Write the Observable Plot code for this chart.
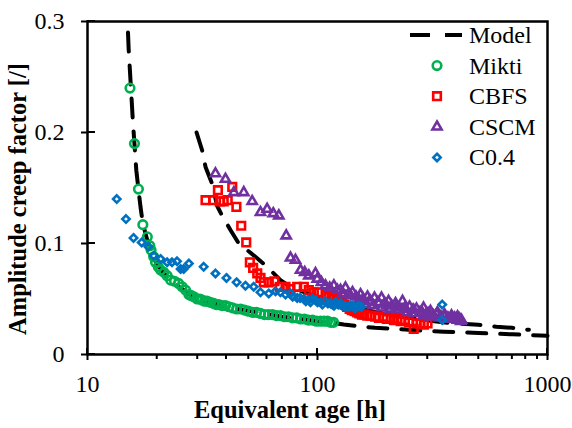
<!DOCTYPE html>
<html><head><meta charset="utf-8">
<script src="https://cdn.jsdelivr.net/npm/d3@7"></script>
<script src="https://cdn.jsdelivr.net/npm/@observablehq/plot@0.6"></script>
<style>html,body{margin:0;padding:0;background:#fff;} #chart{width:572px;height:428px;overflow:hidden} #chart svg text{font-family:"Liberation Serif","Times New Roman",Tinos,"DejaVu Serif",serif !important;}</style>
</head><body><div id="chart"></div>
<script>
// ---- data ----
const seriesNames = ["Model", "Mikti", "CBFS", "CSCM", "C0.4"];
const xTicks = [10, 100, 1000];
const xMinorTicks = [20, 30, 40, 50, 60, 70, 80, 90, 200, 300, 400, 500, 600, 700, 800, 900];
const yTicks = [0, 0.1, 0.2, 0.3];
const xTitle = "Equivalent age [h]";
const yTitle = "Amplitude creep factor [/]";

// model curve for Mikti [h, factor]
const modelA = [[15.0,0.29],[15.1,0.275],[15.25,0.26],[15.4,0.245],[15.55,0.23],[15.75,0.21],[16.0,0.19],[16.3,0.166],[16.65,0.149],[17.0,0.133],[17.4,0.118],[18.2,0.103],[19.0,0.092],[20.0,0.082],[21.5,0.073],[23.0,0.067],[25.0,0.061],[28.0,0.054],[32.0,0.048],[37.0,0.045],[45.0,0.041],[55.0,0.038],[70.0,0.034],[85.0,0.032],[100.0,0.030],[117.0,0.0285],[130,0.027],[150,0.0255],[178,0.024],[211,0.0232],[249,0.0222],[300,0.0213],[354,0.0206],[426,0.0200],[502,0.0193],[594,0.0188],[703,0.0182],[843,0.0175],[1000,0.0168]];
// model curve for CBFS / CSCM
const modelB = [[29.8,0.200],[31.5,0.184],[32.6,0.169],[34.8,0.154],[36.6,0.134],[38.5,0.125],[41.9,0.112],[45.5,0.100],[49.5,0.094],[53.7,0.088],[60.4,0.079],[69.0,0.067],[75.0,0.062],[90,0.055],[110,0.049],[140,0.043],[180,0.038],[250,0.033],[350,0.029],[420,0.0278],[500,0.0268],[600,0.025],[700,0.024],[830,0.0222]];

const mikti = [[15.3,0.240],[16.0,0.190],[16.65,0.149],[17.4,0.117],[18.2,0.106],[18.66,0.098],[18.9,0.094],[19.4,0.088],[19.75,0.083],[20.3,0.079],[20.8,0.076],[21.5,0.074],[22.2,0.071],[23.0,0.067],[23.9,0.066],[24.9,0.064],[25.8,0.061],[26.7,0.058],[27.6,0.054],[28.3,0.053],[29.0,0.052],[30.0,0.050],[30.8,0.050],[31.5,0.049],[32.3,0.048],[33.1,0.048],[34.2,0.047],[35.4,0.046],[36.3,0.045],[37.2,0.045],[38.5,0.044],[39.8,0.044],[41.2,0.043],[42.7,0.042],[44.5,0.041],[46.3,0.041],[48.2,0.040],[50.1,0.039],[52.2,0.038],[54.3,0.038],[56.5,0.037],[58.8,0.036],[61.2,0.036],[63.7,0.036],[66.3,0.035],[69.0,0.035],[71.9,0.034],[74.8,0.034],[77.9,0.033],[81.1,0.033],[84.4,0.032],[87.8,0.032],[91.4,0.031],[95.1,0.031],[99.0,0.030],[103.0,0.030],[106.7,0.030],[110.5,0.030],[114.0,0.029],[117.4,0.029]];

const cbfs = [[32.6,0.139],[35.2,0.139],[36.9,0.148],[37.6,0.138],[39.1,0.138],[40.7,0.139],[42.6,0.151],[44.4,0.133],[46.6,0.116],[49.0,0.101],[50.8,0.083],[52.5,0.078],[54.7,0.073],[56.5,0.069],[58.4,0.065],[61.4,0.065],[65.0,0.066],[68.5,0.061],[72.6,0.061],[76.3,0.059],[81.6,0.061],[87.2,0.061],[91.7,0.058],[96.4,0.056],[101.3,0.056],[108.4,0.054],[115,0.053],[122,0.051],[128,0.047],[134.6,0.043],[141,0.040],[148.8,0.038],[156,0.036],[164.5,0.035],[178,0.034],[193.6,0.034],[208,0.033],[222,0.032],[240,0.031],[262,0.023],[280.5,0.028],[300.8,0.028],
  [112,0.052],[118,0.050],[125,0.049],[131,0.045],[138,0.041],[145,0.039],[152,0.037],[160,0.036],[170,0.035],[185,0.033],[200,0.032],[215,0.031],[230,0.030],[250,0.029],[270,0.028],[290,0.027]];

const cscm = [[36.0,0.163],[39.8,0.158],[43.3,0.146],[47.8,0.146],[52.0,0.138],[56.5,0.128],[60.4,0.131],[64.2,0.127],[67.9,0.125],[73.1,0.107],[76.3,0.087],[80.2,0.085],[84.4,0.076],[88,0.074],[91.7,0.071],[98.0,0.073],[99.7,0.068],[104,0.065],[108.3,0.062],[113,0.060],[117.8,0.062],[122,0.058],[125.9,0.058],[129,0.055],[132.3,0.060],[136,0.054],[139.2,0.053],[142,0.056],[147,0.052],[153.8,0.054],[158,0.050],[164.9,0.052],[170,0.048],[176.9,0.051],[183,0.047],[189.8,0.051],[196,0.046],[203.6,0.048],[210,0.044],[218.4,0.046],[226,0.042],[234.2,0.048],[242,0.041],[251.2,0.043],[260,0.040],[269.4,0.041],[279,0.038],[289.0,0.042],[299,0.037],[309.9,0.039],[320,0.035],[332.4,0.038],[344,0.034],[356.6,0.036],[369,0.033],[382.5,0.035],[394,0.033],[406.3,0.034],[415,0.032],[422.8,0.031],
  [148.8,0.046],[160,0.045],[175,0.044],[190,0.042],[207.6,0.041],[225,0.040],[245,0.038],[265,0.037],[289,0.035],[310,0.034],[340,0.033],[370,0.032],[406,0.031],[420,0.030],
  [152,0.049],[168,0.048],[185,0.046],[200,0.044],[220,0.043],[240,0.042],[262,0.040],[285,0.038],[305,0.037],[330,0.036],[355,0.034],[380,0.033],[400,0.032],[415,0.031]];

const c04 = [[13.4,0.140],[14.7,0.122],[15.85,0.105],[17.2,0.101],[18.4,0.097],[19.4,0.089],[20.8,0.086],[22.2,0.083],[23.3,0.083],[24.5,0.084],[25.4,0.077],[26.2,0.077],[27.6,0.082],[32.0,0.079],[36.0,0.073],[40.2,0.069],[44.5,0.065],[48.6,0.062],[52.8,0.061],[56.5,0.056],[61.4,0.055],[65.7,0.057],[69.0,0.056],[72.6,0.054],[76.3,0.055],[81.6,0.051],[87.2,0.050],[91.7,0.049],[95,0.050],[98.0,0.049],[103.0,0.047],[108,0.048],[113.9,0.046],[120,0.047],[125.9,0.046],[132,0.044],[139.2,0.044],[145,0.042],[151.3,0.044],[155,0.043],
  [93.2,0.047],[105,0.045],[118,0.044],[132,0.043],[146.3,0.042],
  [78,0.052],[84,0.051],[89,0.048],[100,0.047],[111,0.046],[116,0.045],[123,0.045],[128,0.044],[136,0.043],[142,0.044],[149,0.043],
  [348.5,0.045],[348.5,0.031]];

// ---- styling ----
const font = "Liberation Serif, Times New Roman, Tinos, DejaVu Serif, serif";
const colors = {"Mikti": "#00B050", "CBFS": "#FF0000", "CSCM": "#7030A0", "C0.4": "#0070C0"};
const symbols = {"Mikti": d3.symbolCircle, "CBFS": d3.symbolSquare, "CSCM": d3.symbolTriangle, "C0.4": d3.symbolDiamond2};
const radii = {"Mikti": 4.3, "CBFS": 4.3, "CSCM": 3.4, "C0.4": 3.3};
const dash = "19,14";

const model = [
  ...modelA.map(([h, v]) => ({h, v, curve: "A"})),
  ...modelB.map(([h, v]) => ({h, v, curve: "B"}))
];

function dots(data, name) {
  return Plot.dot(data, {
    x: d => d[0], y: d => d[1],
    symbol: symbols[name], r: radii[name],
    stroke: colors[name], strokeWidth: 2.6, fill: "none"
  });
}

// inner halves of the major ticks (they cross the frame)
function innerTicks(index, scales, values, dims) {
  const g = d3.create("svg:g").attr("stroke", "black").attr("stroke-width", 2);
  const x0 = dims.marginLeft, y0 = dims.height - dims.marginBottom;
  for (const t of xTicks) g.append("line").attr("x1", scales.x(t)).attr("x2", scales.x(t)).attr("y1", y0).attr("y2", y0 - 6);
  for (const t of yTicks) g.append("line").attr("x1", x0).attr("x2", x0 + 8).attr("y1", scales.y(t)).attr("y2", scales.y(t));
  return g.node();
}

function titles(index, scales, values, dims) {
  const g = d3.create("svg:g").attr("font-family", font).attr("font-weight", "bold").attr("font-size", 24.5).attr("fill", "black");
  g.append("text").attr("x", 290).attr("y", 418).attr("text-anchor", "middle").text(xTitle);
  g.append("text").attr("transform", "translate(26,199) rotate(-90)").attr("text-anchor", "middle").text(yTitle);
  return g.node();
}

function legend(index, scales, values, dims) {
  const right = dims.width - dims.marginRight;
  const top = dims.marginTop;
  const g = d3.create("svg:g").attr("font-family", font).attr("font-size", 24);
  seriesNames.forEach((name, i) => {
    const cy = top + 14 + 30.6 * i;
    if (name === "Model") {
      g.append("line").attr("x1", right - 137).attr("x2", right - 85).attr("y1", cy).attr("y2", cy)
        .attr("stroke", "black").attr("stroke-width", 4).attr("stroke-dasharray", "20,15");
    } else {
      g.append("path").attr("transform", `translate(${right - 110},${cy})`)
        .attr("d", d3.symbol(symbols[name], Math.PI * radii[name] ** 2)())
        .attr("fill", "none").attr("stroke", colors[name]).attr("stroke-width", 2.6);
    }
    g.append("text").attr("x", right - 78).attr("y", cy + 8).attr("text-anchor", "start").attr("fill", "black").text(name);
  });
  return g.node();
}

const chart = Plot.plot({
  width: 572, height: 428,
  marginLeft: 87, marginRight: 25, marginTop: 21, marginBottom: 74,
  x: {type: "log", domain: [10, 1000]},
  y: {domain: [0, 0.3]},
  style: {fontFamily: font, background: "white", color: "black"},
  marks: [
    Plot.line(model, {x: "h", y: "v", z: "curve", stroke: "black", strokeWidth: 4, strokeDasharray: dash}),
    dots(mikti, "Mikti"),
    dots(cbfs, "CBFS"),
    dots(cscm, "CSCM"),
    dots(c04, "C0.4"),
    Plot.frame({stroke: "black", strokeWidth: 2.5}),
    Plot.axisX({ticks: xTicks, tickSize: 6, tickPadding: 14, fontSize: 24, tickFormat: d => String(d), label: null, strokeWidth: 2}),
    Plot.axisX({ticks: xMinorTicks, tickSize: 5, tickFormat: () => "", label: null, strokeWidth: 2}),
    Plot.axisY({ticks: yTicks, tickSize: 6, tickPadding: 17, fontSize: 24, tickFormat: d => String(d), label: null, strokeWidth: 2}),
    innerTicks,
    titles,
    legend
  ]
});
document.getElementById("chart").appendChild(chart);
</script>
</body></html>
